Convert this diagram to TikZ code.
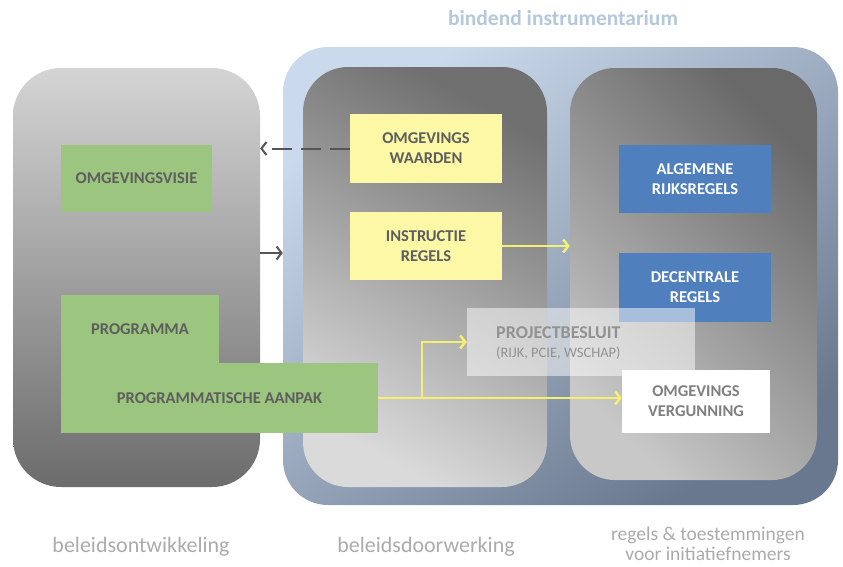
\documentclass[tikz,border=0pt]{standalone}
\usepackage{fontspec}
\setmainfont{Carlito}
\usetikzlibrary{arrows.meta}
\definecolor{grn}{HTML}{9CC67F}
\definecolor{ylw}{HTML}{FDF8A6}
\definecolor{blu}{HTML}{4F7FBC}
\definecolor{txtd}{HTML}{5E5E5E}
\definecolor{txtw}{HTML}{7F7F7F}
\definecolor{arrg}{HTML}{555555}
\definecolor{arry}{HTML}{F5EF72}
\definecolor{lbl}{HTML}{ABABAB}
\definecolor{ttl}{HTML}{B5C7DC}
\definecolor{lboxtop}{RGB}{212,212,212}
\definecolor{lboxbot}{RGB}{108,108,108}
\definecolor{outtop}{RGB}{202,217,235}
\definecolor{outbot}{RGB}{105,120,142}
\definecolor{mtop}{RGB}{112,112,112}
\definecolor{mbot}{RGB}{218,218,218}
\definecolor{rtop}{RGB}{105,105,105}
\definecolor{rbot}{RGB}{200,200,200}
\tikzset{
  boxtext/.style={font=\fontsize{16.5}{20}\selectfont\bfseries, align=center, inner sep=0pt},
  greenbox/.style={boxtext, fill=grn, text=txtd},
  yellowbox/.style={boxtext, fill=ylw, text=txtd},
  bluebox/.style={boxtext, fill=blu, text=white},
  whitebox/.style={boxtext, fill=white, text=txtw},
  panel/.style={inner sep=0pt, rounded corners=#1},
  grayarrow/.style={draw=arrg, line width=2pt, -{Straight Barb[length=5pt,width=13pt,line width=2pt]}},
  yellowarrow/.style={draw=arry, line width=2.5pt, -{Straight Barb[length=5pt,width=13pt,line width=2.5pt]}},
  bottomlabel/.style={font=\fontsize{22}{20}\selectfont, text=lbl, align=center}
}
\begin{document}
\begin{tikzpicture}[x=1pt,y=-1pt]
\useasboundingbox (0,0) rectangle (843,566);
% panels
\node[panel=48pt, minimum width=247pt, minimum height=419pt, top color=lboxtop, bottom color=lboxbot] (lbox) at (136.5,277.5) {};
\node[panel=45pt, minimum width=555pt, minimum height=458pt, top color=outtop, bottom color=outbot, shading angle=35] (outer) at (560.5,276) {};
\node[panel=45pt, minimum width=244pt, minimum height=420pt, top color=mtop, bottom color=mbot, shading angle=-30] (mbox) at (425,277) {};
\node[panel=45pt, minimum width=247pt, minimum height=412pt, top color=rtop, bottom color=rbot, shading angle=-45] (rbox) at (693.5,274) {};
% title
\node[font=\fontsize{21.5}{24}\selectfont\bfseries, text=ttl] (title) at (563,18) {bindend instrumentarium};
% boxes
\node[greenbox, minimum width=151pt, minimum height=67pt] (visie) at (136.5,178.5) {OMGEVINGSVISIE};
\node[greenbox, minimum width=158pt, minimum height=68pt] (prog) at (140,329) {PROGRAMMA};
\node[greenbox, minimum width=317pt, minimum height=70pt] (aanpak) at (219.5,398) {PROGRAMMATISCHE AANPAK};
\node[yellowbox, minimum width=152pt, minimum height=69pt] (waarden) at (426,148.5) {OMGEVINGS\\WAARDEN};
\node[yellowbox, minimum width=152pt, minimum height=68pt] (instr) at (426,246) {INSTRUCTIE\\REGELS};
\node[bluebox, minimum width=152pt, minimum height=68pt] (alg) at (695,179) {ALGEMENE\\RIJKSREGELS};
\node[bluebox, minimum width=152pt, minimum height=69pt] (dec) at (695,287.5) {DECENTRALE\\REGELS};
\node[fill=white, fill opacity=0.5, text opacity=1, inner sep=0pt, minimum width=228pt, minimum height=68pt] (proj) at (581,342) {};
\node[anchor=west, align=left, inner sep=0pt, text=txtw!85, font=\fontsize{18}{19}\selectfont] (projtxt) at (496,343) {\textbf{PROJECTBESLUIT}\\{\fontsize{14.5}{19}\selectfont (RIJK, PCIE, WSCHAP)}};
\node[whitebox, minimum width=148pt, minimum height=63pt] (verg) at (696,401.5) {OMGEVINGS\\VERGUNNING};
% arrows
\draw[grayarrow, dash pattern=on 20pt off 9pt] (waarden.west) -- (waarden.west -| lbox.east);
\draw[grayarrow] (lbox.east |- 0,253) -- (outer.west |- 0,253);
\draw[yellowarrow] (instr.east) -- (rbox.west |- instr.east);
\draw[yellowarrow] (aanpak.east) -- (verg.west |- aanpak.east);
\coordinate (br) at (422,398);
\draw[yellowarrow] (br) -- (br |- proj.west) -- (proj.west);
% bottom labels
\node[bottomlabel] (l1) at (141,547) {beleidsontwikkeling};
\node[bottomlabel] (l2) at (426,547) {beleidsdoorwerking};
\node[bottomlabel, font=\fontsize{19.5}{20}\selectfont] (l3) at (708,544) {regels \& toestemmingen\\voor initiatiefnemers};
\end{tikzpicture}
\end{document}
